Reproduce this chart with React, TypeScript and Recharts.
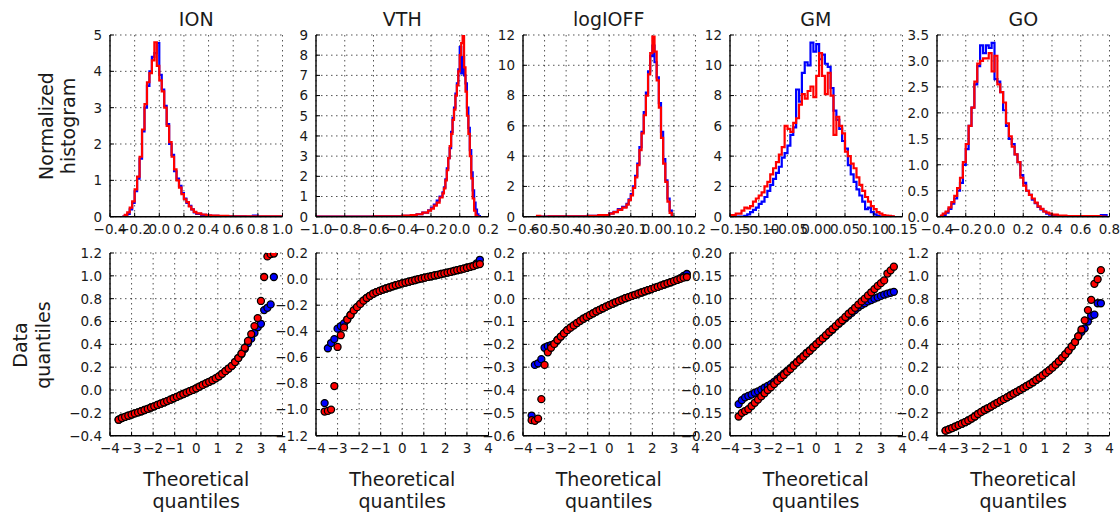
import React from 'react';
import { LineChart, Line, ScatterChart, Scatter, XAxis, YAxis, CartesianGrid } from 'recharts';

// ---- histogram data (bin left edges + normalized heights) ----
const ionBins = [-0.30, -0.28, -0.26, -0.24, -0.22, -0.20, -0.18, -0.16, -0.14, -0.12, -0.10, -0.08, -0.06, -0.04, -0.02, 0.00, 0.02, 0.04, 0.06, 0.08, 0.10, 0.12, 0.14, 0.16, 0.18, 0.20, 0.22, 0.24, 0.26, 0.28, 0.30, 0.34, 0.38, 0.42, 0.48, 0.56, 0.70, 0.76, 0.80, 1.00];
const ionHistBlue = [0, 0.02, 0.08, 0.2, 0.38, 0.7, 1.05, 1.6, 2.35, 3.0, 3.6, 4.0, 4.4, 4.5, 4.78, 3.9, 3.5, 3.05, 2.55, 2.0, 1.7, 1.25, 1.05, 0.85, 0.65, 0.5, 0.38, 0.3, 0.2, 0.12, 0.08, 0.05, 0.03, 0.02, 0.01, 0.01, 0.005, 0.03, 0.005, 0];
const ionHistRed = [0, 0.05, 0.12, 0.25, 0.42, 0.75, 1.1, 1.65, 2.4, 3.1, 3.7, 3.95, 4.3, 4.8, 4.15, 3.75, 3.45, 3.0, 2.5, 2.05, 1.65, 1.3, 1.0, 0.8, 0.62, 0.48, 0.4, 0.28, 0.2, 0.13, 0.09, 0.06, 0.04, 0.03, 0.02, 0.01, 0.01, 0.01, 0.01, 0];

const vthBins = [-1.0, -0.6, -0.4, -0.34, -0.30, -0.26, -0.22, -0.20, -0.18, -0.16, -0.14, -0.12, -0.11, -0.10, -0.09, -0.08, -0.07, -0.06, -0.05, -0.04, -0.03, -0.02, -0.01, 0.00, 0.01, 0.02, 0.03, 0.04, 0.05, 0.06, 0.07, 0.08, 0.09, 0.10, 0.11, 0.12, 0.13, 0.14];
const vthHistBlue = [0.01, 0.02, 0.04, 0.07, 0.12, 0.2, 0.32, 0.45, 0.6, 0.8, 1.0, 1.2, 1.45, 1.85, 2.4, 2.9, 3.4, 4.2, 4.9, 5.4, 6.1, 6.6, 7.3, 8.4, 7.1, 7.9, 7.0, 6.6, 5.4, 4.4, 3.3, 2.2, 1.3, 0.7, 0.35, 0.12, 0.03, 0];
const vthHistRed = [0.01, 0.02, 0.05, 0.08, 0.12, 0.2, 0.3, 0.4, 0.55, 0.7, 0.95, 1.15, 1.4, 1.8, 2.3, 2.9, 3.5, 4.1, 4.8, 5.3, 6.0, 6.5, 7.2, 8.0, 8.6, 8.95, 7.4, 6.2, 5.0, 4.1, 3.0, 1.9, 0.9, 0.3, 0.05, 0, 0, 0];

const logBins = [-0.54, -0.52, -0.48, -0.40, -0.30, -0.25, -0.20, -0.18, -0.16, -0.14, -0.12, -0.11, -0.10, -0.09, -0.08, -0.07, -0.06, -0.05, -0.04, -0.03, -0.02, -0.01, 0.00, 0.01, 0.02, 0.03, 0.04, 0.05, 0.06, 0.07, 0.08, 0.09];
const logHistBlue = [0, 0.01, 0.02, 0.03, 0.05, 0.1, 0.22, 0.32, 0.5, 0.65, 0.85, 1.15, 1.5, 2.0, 2.7, 3.5, 4.6, 5.6, 6.9, 8.2, 9.6, 10.6, 11.3, 10.2, 9.2, 7.5, 5.6, 3.8, 2.4, 1.2, 0.4, 0];
const logHistRed = [0.06, 0.01, 0.02, 0.03, 0.05, 0.1, 0.2, 0.3, 0.45, 0.6, 0.8, 1.1, 1.4, 1.9, 2.6, 3.4, 4.4, 5.5, 6.7, 8.0, 9.4, 10.8, 11.9, 10.9, 9.0, 7.2, 5.2, 3.5, 2.3, 1.0, 0.25, 0];

const gmBins = [-0.150, -0.145, -0.140, -0.135, -0.130, -0.125, -0.120, -0.115, -0.110, -0.105, -0.100, -0.095, -0.090, -0.085, -0.080, -0.075, -0.070, -0.065, -0.060, -0.055, -0.050, -0.045, -0.040, -0.035, -0.030, -0.025, -0.020, -0.015, -0.010, -0.005, 0.000, 0.005, 0.010, 0.015, 0.020, 0.025, 0.030, 0.035, 0.040, 0.045, 0.050, 0.055, 0.060, 0.065, 0.070, 0.075, 0.080, 0.085, 0.090, 0.095, 0.100, 0.105, 0.110, 0.115, 0.120, 0.125, 0.130, 0.135];
const gmHistBlue = [
  0, 0, 0, 0, 0,
  0.05, 0.15, 0.3, 0.45, 0.6,
  0.85, 1.0, 1.3, 1.7, 2.1,
  2.5, 2.9, 3.3, 3.9, 4.2,
  4.7, 5.4, 5.9, 8.4, 7.6,
  9.5, 10.2, 10.0, 11.5, 10.9,
  11.4, 10.4, 10.7, 10.1, 9.9,
  8.5, 7.0, 6.4, 5.8, 5.0,
  4.5, 3.4, 2.8, 2.3, 1.8,
  1.4, 1.0, 0.5, 0.6, 0.3,
  0.15, 0.05, 0, 0, 0,
  0, 0, 0,
];
const gmHistRed = [
  0.1, 0.1, 0.2, 0.2, 0.4,
  0.6, 0.55, 0.7, 1.0, 1.2,
  1.4, 1.6, 2.0, 2.3, 2.8,
  3.2, 3.6, 4.1, 4.6, 6.0,
  5.8, 5.6, 6.2, 6.5, 7.4,
  8.1, 7.8, 8.3, 8.6, 7.9,
  9.3, 10.8, 9.3, 8.1, 9.5,
  8.0, 5.4, 6.6, 6.0, 5.5,
  4.3, 4.0, 3.5, 3.2, 2.6,
  2.1, 1.7, 1.3, 1.0, 0.7,
  0.5, 0.3, 0.2, 0.1, 0.08,
  0.05, 0.02, 0,
];

const goBins = [-0.38, -0.36, -0.34, -0.32, -0.30, -0.28, -0.26, -0.24, -0.22, -0.20, -0.18, -0.16, -0.14, -0.12, -0.10, -0.08, -0.06, -0.04, -0.02, 0.00, 0.02, 0.04, 0.06, 0.08, 0.10, 0.12, 0.14, 0.16, 0.18, 0.20, 0.22, 0.24, 0.26, 0.28, 0.30, 0.32, 0.34, 0.36, 0.38, 0.40, 0.44, 0.50, 0.74, 0.78];
const goHistBlue = [
  0, 0.03, 0.08, 0.15, 0.25,
  0.35, 0.5, 0.65, 1.0, 1.3,
  1.75, 2.1, 2.55, 2.9, 3.3,
  3.15, 3.3, 3.25, 3.35, 2.65,
  2.6, 2.4, 2.05, 1.75, 1.5,
  1.4, 1.2, 1.05, 0.8, 0.65,
  0.5, 0.42, 0.33, 0.26, 0.19,
  0.14, 0.1, 0.06, 0.04, 0.03,
  0.01, 0.005, 0.03, 0,
];
const goHistRed = [
  0.02, 0.06, 0.1, 0.18, 0.28,
  0.4, 0.55, 0.75, 1.05, 1.4,
  1.75, 2.1, 2.6, 2.95, 3.0,
  3.05, 3.05, 3.15, 2.8, 3.1,
  2.55, 2.4, 2.2, 1.8, 1.55,
  1.35, 1.2, 1.05, 0.75, 0.6,
  0.5, 0.42, 0.35, 0.27, 0.2,
  0.15, 0.1, 0.08, 0.06, 0.04,
  0.02, 0.01, 0, 0,
];

// ---- QQ data (shared theoretical quantiles, data quantiles per series) ----
const qqTheoretical = [
  -3.6, -3.45, -3.3, -3.15, -3.0, -2.85, -2.7,
  -2.55, -2.4, -2.25, -2.1, -1.95, -1.8, -1.65,
  -1.5, -1.35, -1.2, -1.05, -0.9, -0.75, -0.6,
  -0.45, -0.3, -0.15, 0, 0.15, 0.3, 0.45,
  0.6, 0.75, 0.9, 1.05, 1.2, 1.35, 1.5,
  1.65, 1.8, 1.95, 2.1, 2.25, 2.4, 2.55,
  2.7, 2.85, 3.0, 3.15, 3.3, 3.45, 3.6,
];

const ionQQBlue = [
  -0.26, -0.245, -0.235, -0.225, -0.215, -0.205, -0.196,
  -0.186, -0.175, -0.165, -0.153, -0.143, -0.131, -0.12,
  -0.109, -0.097, -0.085, -0.072, -0.06, -0.047, -0.035,
  -0.022, -0.01, 0.002, 0.015, 0.03, 0.045, 0.058,
  0.072, 0.086, 0.102, 0.12, 0.142, 0.165, 0.188,
  0.212, 0.245, 0.28, 0.315, 0.36, 0.41, 0.45,
  0.5, 0.55, 0.58, 0.7, 0.72, 0.75, 0.99,
];
const ionQQRed = [
  -0.26, -0.245, -0.235, -0.225, -0.215, -0.205, -0.196,
  -0.186, -0.175, -0.165, -0.153, -0.143, -0.131, -0.12,
  -0.109, -0.097, -0.085, -0.072, -0.06, -0.047, -0.035,
  -0.022, -0.01, 0.002, 0.015, 0.03, 0.045, 0.058,
  0.072, 0.086, 0.102, 0.12, 0.142, 0.165, 0.188,
  0.212, 0.245, 0.28, 0.32, 0.37, 0.43, 0.49,
  0.56, 0.63, 0.78, 0.99, 1.17, 1.19, 1.195,
];

const vthQQBlue = [
  -0.95, -0.53, -0.49, -0.46, -0.38, -0.36, -0.34,
  -0.31, -0.275, -0.24, -0.215, -0.19, -0.165, -0.145,
  -0.128, -0.112, -0.1, -0.09, -0.08, -0.072, -0.064,
  -0.055, -0.047, -0.04, -0.033, -0.027, -0.02, -0.013,
  -0.007, 0.0, 0.005, 0.011, 0.017, 0.022, 0.028,
  0.033, 0.039, 0.044, 0.05, 0.056, 0.062, 0.068,
  0.074, 0.08, 0.087, 0.094, 0.102, 0.12, 0.148,
];
const vthQQRed = [
  -1.015, -1.01, -1.0, -0.82, -0.52, -0.43, -0.37,
  -0.31, -0.275, -0.24, -0.215, -0.19, -0.165, -0.145,
  -0.128, -0.112, -0.1, -0.09, -0.08, -0.072, -0.064,
  -0.055, -0.047, -0.04, -0.033, -0.027, -0.02, -0.013,
  -0.007, 0.0, 0.005, 0.011, 0.017, 0.022, 0.028,
  0.033, 0.039, 0.044, 0.05, 0.056, 0.062, 0.068,
  0.074, 0.08, 0.087, 0.094, 0.1, 0.11, 0.115,
];

const logQQBlue = [
  -0.512, -0.29, -0.283, -0.265, -0.215, -0.208, -0.203,
  -0.198, -0.181, -0.166, -0.152, -0.138, -0.127, -0.117,
  -0.107, -0.097, -0.088, -0.08, -0.072, -0.064, -0.056,
  -0.049, -0.042, -0.035, -0.028, -0.022, -0.016, -0.01,
  -0.004, 0.002, 0.007, 0.012, 0.017, 0.022, 0.027,
  0.032, 0.037, 0.042, 0.047, 0.052, 0.057, 0.062,
  0.067, 0.072, 0.077, 0.083, 0.09, 0.1, 0.108,
];
const logQQRed = [
  -0.532, -0.535, -0.525, -0.44, -0.29, -0.235, -0.215,
  -0.198, -0.181, -0.166, -0.152, -0.138, -0.127, -0.117,
  -0.107, -0.097, -0.088, -0.08, -0.072, -0.064, -0.056,
  -0.049, -0.042, -0.035, -0.028, -0.022, -0.016, -0.01,
  -0.004, 0.002, 0.007, 0.012, 0.017, 0.022, 0.027,
  0.032, 0.037, 0.042, 0.047, 0.052, 0.057, 0.062,
  0.067, 0.072, 0.077, 0.082, 0.087, 0.092, 0.095,
];

const gmQQBlue = [
  -0.131, -0.122, -0.116, -0.113, -0.11, -0.106, -0.103,
  -0.099, -0.095, -0.091, -0.087, -0.082, -0.076, -0.07,
  -0.064, -0.058, -0.052, -0.045, -0.039, -0.032, -0.026,
  -0.019, -0.013, -0.006, 0, 0.006, 0.013, 0.019,
  0.026, 0.032, 0.039, 0.045, 0.051, 0.057, 0.063,
  0.069, 0.075, 0.081, 0.086, 0.09, 0.094, 0.097,
  0.1, 0.103, 0.106, 0.109, 0.111, 0.113, 0.115,
];
const gmQQRed = [
  -0.158, -0.15, -0.146, -0.142, -0.135, -0.128, -0.121,
  -0.114, -0.107, -0.1, -0.094, -0.087, -0.08, -0.074,
  -0.067, -0.06, -0.054, -0.047, -0.04, -0.034, -0.027,
  -0.02, -0.014, -0.007, 0, 0.007, 0.013, 0.02,
  0.027, 0.033, 0.04, 0.047, 0.053, 0.06, 0.067,
  0.073, 0.08, 0.087, 0.094, 0.1, 0.107, 0.114,
  0.121, 0.128, 0.134, 0.14, 0.155, 0.162, 0.17,
];

const goQQBlue = [
  -0.356, -0.345, -0.333, -0.32, -0.308, -0.295, -0.282,
  -0.267, -0.25, -0.232, -0.21, -0.192, -0.175, -0.16,
  -0.145, -0.128, -0.112, -0.095, -0.08, -0.064, -0.048,
  -0.032, -0.016, 0.0, 0.017, 0.034, 0.05, 0.068,
  0.088, 0.107, 0.128, 0.15, 0.172, 0.196, 0.222,
  0.25, 0.28, 0.312, 0.345, 0.382, 0.42, 0.47,
  0.51, 0.54, 0.6, 0.65, 0.66, 0.76, 0.76,
];
const goQQRed = [
  -0.356, -0.345, -0.333, -0.32, -0.308, -0.295, -0.282,
  -0.267, -0.25, -0.232, -0.21, -0.192, -0.175, -0.16,
  -0.145, -0.128, -0.112, -0.095, -0.08, -0.064, -0.048,
  -0.032, -0.016, 0.0, 0.017, 0.034, 0.05, 0.068,
  0.088, 0.107, 0.128, 0.15, 0.172, 0.196, 0.222,
  0.25, 0.28, 0.312, 0.345, 0.382, 0.42, 0.47,
  0.53, 0.61, 0.7, 0.79, 0.93, 0.97, 1.05,
];

// ---- tick labels ----
const titles = ['ION', 'VTH', 'logIOFF', 'GM', 'GO'];
const ionHistXTicks = [-0.4, -0.2, 0, 0.2, 0.4, 0.6, 0.8, 1.0];
const ionHistYTicks = [0, 1, 2, 3, 4, 5];
const vthHistXTicks = [-1.0, -0.8, -0.6, -0.4, -0.2, 0, 0.2];
const vthHistYTicks = [0, 1, 2, 3, 4, 5, 6, 7, 8, 9];
const logHistXTicks = [-0.6, -0.5, -0.4, -0.3, -0.2, -0.1, 0, 0.1, 0.2];
const logHistYTicks = [0, 2, 4, 6, 8, 10, 12];
const gmHistXTicks = [-0.15, -0.1, -0.05, 0, 0.05, 0.1, 0.15];
const gmHistYTicks = [0, 2, 4, 6, 8, 10, 12];
const goHistXTicks = [-0.4, -0.2, 0, 0.2, 0.4, 0.6, 0.8];
const goHistYTicks = [0, 0.5, 1.0, 1.5, 2.0, 2.5, 3.0, 3.5];

const qqXTicks = [-4, -3, -2, -1, 0, 1, 2, 3, 4];
const ionQQYTicks = [-0.4, -0.2, 0, 0.2, 0.4, 0.6, 0.8, 1.0, 1.2];
const vthQQYTicks = [-1.2, -1.0, -0.8, -0.6, -0.4, -0.2, 0, 0.2];
const logQQYTicks = [-0.6, -0.5, -0.4, -0.3, -0.2, -0.1, 0, 0.1, 0.2];
const gmQQYTicks = [-0.2, -0.15, -0.1, -0.05, 0, 0.05, 0.1, 0.15, 0.2];
const goQQYTicks = [-0.4, -0.2, 0, 0.2, 0.4, 0.6, 0.8, 1.0, 1.2];

// ---- layout ----
const FONT = '"DejaVu Sans", sans-serif';
const INK = '#1a1a1a';
const BLUE = '#0000ff';
const RED = '#ff0000';
const colLeft = [110, 316, 522.5, 729.5, 937];
const PLOT_W = 172.5;
const HIST_TOP = 35;
const HIST_H = 181.7;
const QQ_TOP = 253;
const QQ_H = 182.7;
const PAD_L = 60;
const PAD_R = 22;
const PAD_T = 10;
const PAD_B = 30;
const TICK_FS = 13.5;

const fmt = (dec: number) => (v: number) => v.toFixed(dec).replace('-', '\u2212');
const frameLine = { stroke: '#000', strokeWidth: 1.4 };
const tickLineStyle = { stroke: '#000', strokeWidth: 1 };

// tick labels drawn by hand so the font size is exact
const xTick = (dec: number) => (p: any) => (
  <text x={p.x} y={p.y} dy="0.72em" textAnchor="middle" fontSize={TICK_FS} fontFamily={FONT} fill={INK}>
    {fmt(dec)(p.payload.value)}
  </text>
);
const yTick = (dec: number) => (p: any) => (
  <text x={p.x} y={p.y} dy="0.36em" textAnchor="end" fontSize={TICK_FS} fontFamily={FONT} fill={INK}>
    {fmt(dec)(p.payload.value)}
  </text>
);

type AxisCfg = {
  xDomain: [number, number];
  xTicks: number[];
  xDec: number;
  yDomain: [number, number];
  yTicks: number[];
  yDec: number;
};

const axes = (c: AxisCfg) => [
  <CartesianGrid key="g" stroke="#000" strokeOpacity={0.85} strokeWidth={0.8} strokeDasharray="1.5 3.5" />,
  <XAxis key="xb" dataKey="x" type="number" domain={c.xDomain} ticks={c.xTicks} allowDataOverflow interval={0}
    tick={xTick(c.xDec)} tickSize={-4} tickMargin={12}
    axisLine={frameLine} tickLine={tickLineStyle} height={PAD_B} />,
  <XAxis key="xt" xAxisId="t" dataKey="x" orientation="top" type="number" domain={c.xDomain} ticks={c.xTicks}
    allowDataOverflow interval={0} tick={false} tickSize={-4} axisLine={frameLine} tickLine={tickLineStyle} height={0} />,
  <YAxis key="yl" type="number" domain={c.yDomain} ticks={c.yTicks} allowDataOverflow interval={0}
    tick={yTick(c.yDec)} tickSize={-4} tickMargin={12}
    axisLine={frameLine} tickLine={tickLineStyle} width={PAD_L} />,
  <YAxis key="yr" yAxisId="r" orientation="right" type="number" domain={c.yDomain} ticks={c.yTicks}
    allowDataOverflow interval={0} tick={false} tickSize={-4} axisLine={frameLine} tickLine={tickLineStyle} width={0} />,
];

type HistCfg = AxisCfg & { bins: number[]; blue: number[]; red: number[] };
type QQCfg = AxisCfg & { blue: number[]; red: number[] };

const histPanels: HistCfg[] = [
  { bins: ionBins, blue: ionHistBlue, red: ionHistRed, xDomain: [-0.4, 1.0], xTicks: ionHistXTicks, xDec: 1, yDomain: [0, 5], yTicks: ionHistYTicks, yDec: 0 },
  { bins: vthBins, blue: vthHistBlue, red: vthHistRed, xDomain: [-1.0, 0.2], xTicks: vthHistXTicks, xDec: 1, yDomain: [0, 9], yTicks: vthHistYTicks, yDec: 0 },
  { bins: logBins, blue: logHistBlue, red: logHistRed, xDomain: [-0.6, 0.2], xTicks: logHistXTicks, xDec: 1, yDomain: [0, 12], yTicks: logHistYTicks, yDec: 0 },
  { bins: gmBins, blue: gmHistBlue, red: gmHistRed, xDomain: [-0.15, 0.15], xTicks: gmHistXTicks, xDec: 2, yDomain: [0, 12], yTicks: gmHistYTicks, yDec: 0 },
  { bins: goBins, blue: goHistBlue, red: goHistRed, xDomain: [-0.4, 0.8], xTicks: goHistXTicks, xDec: 1, yDomain: [0, 3.5], yTicks: goHistYTicks, yDec: 1 },
];

const qqPanels: QQCfg[] = [
  { blue: ionQQBlue, red: ionQQRed, xDomain: [-4, 4], xTicks: qqXTicks, xDec: 0, yDomain: [-0.4, 1.2], yTicks: ionQQYTicks, yDec: 1 },
  { blue: vthQQBlue, red: vthQQRed, xDomain: [-4, 4], xTicks: qqXTicks, xDec: 0, yDomain: [-1.2, 0.2], yTicks: vthQQYTicks, yDec: 1 },
  { blue: logQQBlue, red: logQQRed, xDomain: [-4, 4], xTicks: qqXTicks, xDec: 0, yDomain: [-0.6, 0.2], yTicks: logQQYTicks, yDec: 1 },
  { blue: gmQQBlue, red: gmQQRed, xDomain: [-4, 4], xTicks: qqXTicks, xDec: 0, yDomain: [-0.2, 0.2], yTicks: gmQQYTicks, yDec: 2 },
  { blue: goQQBlue, red: goQQRed, xDomain: [-4, 4], xTicks: qqXTicks, xDec: 0, yDomain: [-0.4, 1.2], yTicks: goQQYTicks, yDec: 1 },
];

const HistPanel = ({ cfg, left }: { cfg: HistCfg; left: number }) => {
  const data = cfg.bins.map((x, i) => ({ x, blue: cfg.blue[i], red: cfg.red[i] }));
  return (
    <div style={{ position: 'absolute', left: left - PAD_L, top: HIST_TOP - PAD_T }}>
      <LineChart width={PAD_L + PLOT_W + PAD_R} height={PAD_T + HIST_H + PAD_B} data={data}
        margin={{ top: PAD_T, right: PAD_R, bottom: 0, left: 0 }}>
        {axes(cfg)}
        <Line dataKey="blue" type="stepAfter" stroke={BLUE} strokeWidth={2.2} dot={false} isAnimationActive={false} />
        <Line dataKey="red" type="stepAfter" stroke={RED} strokeWidth={2.2} dot={false} isAnimationActive={false} />
      </LineChart>
    </div>
  );
};

// matplotlib-style markers: coloured face, heavy black edge (dense overlap reads as a dark band)
const dot = (fill: string) => (props: any) => (
  <circle cx={props.cx} cy={props.cy} r={3.5} fill={fill} stroke="#000" strokeWidth={1.3} />
);

const QQPanel = ({ cfg, left }: { cfg: QQCfg; left: number }) => {
  const blue = qqTheoretical.map((x, i) => ({ x, y: cfg.blue[i] }));
  const red = qqTheoretical.map((x, i) => ({ x, y: cfg.red[i] }));
  return (
    <div style={{ position: 'absolute', left: left - PAD_L, top: QQ_TOP - PAD_T }}>
      <ScatterChart width={PAD_L + PLOT_W + PAD_R} height={PAD_T + QQ_H + PAD_B}
        margin={{ top: PAD_T, right: PAD_R, bottom: 0, left: 0 }}>
        {axes(cfg)}
        <Scatter data={blue} dataKey="y" shape={dot(BLUE)} isAnimationActive={false} />
        <Scatter data={red} dataKey="y" shape={dot(RED)} isAnimationActive={false} />
      </ScatterChart>
    </div>
  );
};

const bigText = { fontFamily: FONT, fontSize: 19, fill: INK };

export default function App() {
  return (
    <div style={{ position: 'absolute', left: 0, top: 0, width: 1120, height: 514, background: '#fff' }}>
      {histPanels.map((p, i) => <HistPanel key={`h${i}`} cfg={p} left={colLeft[i]} />)}
      {qqPanels.map((p, i) => <QQPanel key={`q${i}`} cfg={p} left={colLeft[i]} />)}
      <svg width={1120} height={514} style={{ position: 'absolute', left: 0, top: 0, pointerEvents: 'none' }}>
        {titles.map((t, i) => (
          <text key={t} x={colLeft[i] + PLOT_W / 2} y={26} textAnchor="middle" {...bigText}>{t}</text>
        ))}
        {colLeft.map((l, i) => (
          <g key={`tq${i}`}>
            <text x={l + PLOT_W / 2} y={486} textAnchor="middle" {...bigText}>Theoretical</text>
            <text x={l + PLOT_W / 2} y={508} textAnchor="middle" {...bigText}>quantiles</text>
          </g>
        ))}
        <text transform="translate(52.5,126) rotate(-90)" textAnchor="middle" {...bigText}>Normalized</text>
        <text transform="translate(75,126) rotate(-90)" textAnchor="middle" {...bigText}>histogram</text>
        <text transform="translate(27,345) rotate(-90)" textAnchor="middle" {...bigText}>Data</text>
        <text transform="translate(50,345) rotate(-90)" textAnchor="middle" {...bigText}>quantiles</text>
      </svg>
    </div>
  );
}
